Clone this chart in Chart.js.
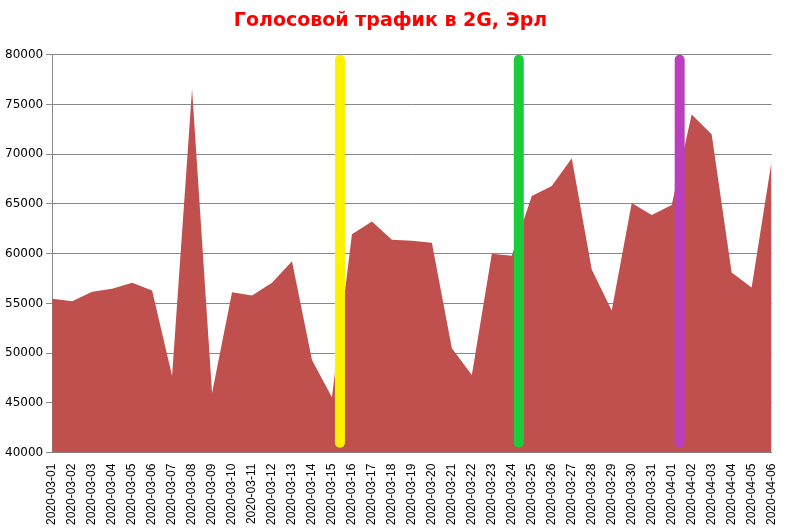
<!DOCTYPE html>
<html><head><meta charset="utf-8">
<script src="https://cdn.jsdelivr.net/npm/chart.js@4/dist/chart.umd.min.js"></script>
<style>html,body{margin:0;background:#fff}#wrap{width:789px;height:528px}</style>
</head><body><div id="wrap"><canvas id="c"></canvas></div>
<script>
const dates = [];
for (let d = 1; d <= 31; d++) dates.push("2020-03-" + String(d).padStart(2, "0"));
for (let d = 1; d <= 6; d++) dates.push("2020-04-" + String(d).padStart(2, "0"));
const traffic = [55470,55230,56170,56470,57070,56300,47730,76570,46000,56130,55800,57070,59230,49300,45570,
  61950,63250,61400,61300,61100,50500,47800,60000,59800,65800,66800,69600,58400,54300,65100,63900,64900,
  74000,72000,58100,56600,69300];
const markers = [ { at: 14.4, color: "#FFF200" }, { at: 23.35, color: "#1DCC3C" }, { at: 31.4, color: "#B93FBF" } ];
const markerRange = [79500, 41000];

const markerPlugin = {
  id: "markers",
  afterDatasetsDraw(chart) {
    const { ctx, scales: { x, y } } = chart;
    const step = x.getPixelForValue(1) - x.getPixelForValue(0);
    ctx.save();
    ctx.lineWidth = 10; ctx.lineCap = "round";
    markers.forEach((m) => {
      const px = x.getPixelForValue(0) + m.at * step;
      ctx.strokeStyle = m.color;
      ctx.beginPath();
      ctx.moveTo(px, y.getPixelForValue(markerRange[0]));
      ctx.lineTo(px, y.getPixelForValue(markerRange[1]));
      ctx.stroke();
    });
    ctx.restore();
  }
};

new Chart(document.getElementById("c"), {
  type: "line",
  data: { labels: dates, datasets: [{ data: traffic, fill: "start", backgroundColor: "#C0504D", borderWidth: 0, pointRadius: 0, tension: 0 }] },
  options: {
    responsive: true, maintainAspectRatio: false, animation: false,
    layout: { padding: { left: 2, right: 10, top: 0, bottom: 0 } },
    plugins: {
      legend: { display: false }, tooltip: { enabled: false },
      title: { display: true, text: "Голосовой трафик в 2G, Эрл", color: "#FF0000", font: { family: "DejaVu Sans", size: 19, weight: "bold" }, padding: { top: 10, bottom: 22 } }
    },
    scales: {
      x: { offset: false, grid: { display: false, drawTicks: true }, border: { color: "#888" },
        ticks: { autoSkip: false, maxRotation: 90, minRotation: 90, color: "#000", font: { family: "Liberation Sans", size: 12 } } },
      y: { min: 40000, max: 80000, grid: { color: "#888", tickLength: 6 }, border: { color: "#888" },
        ticks: { stepSize: 5000, color: "#000", font: { family: "DejaVu Sans", size: 12 }, callback: (v) => String(v) } }
    }
  },
  plugins: [markerPlugin]
});
</script></body></html>
